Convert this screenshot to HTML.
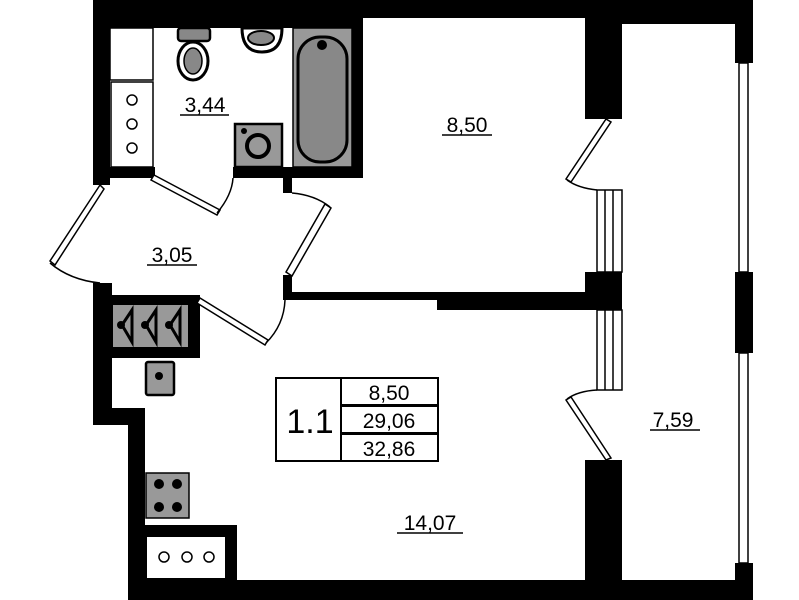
<!DOCTYPE html>
<html><head><style>
html,body{margin:0;padding:0;background:#fff;}
svg{display:block;}
text{font-family:"Liberation Sans",sans-serif;fill:#000;}
</style></head><body>
<svg width="799" height="600" viewBox="0 0 799 600" xmlns="http://www.w3.org/2000/svg">
<rect width="799" height="600" fill="#fff"/>
<g fill="#000">
<rect x="93" y="0" width="660" height="18"/>
<rect x="93" y="0" width="270" height="28"/>
<rect x="622" y="0" width="131" height="24"/>
<rect x="93" y="0" width="17" height="185"/>
<rect x="93" y="167" width="62" height="11"/>
<rect x="233" y="167" width="130" height="11"/>
<rect x="283" y="167" width="9" height="26"/>
<rect x="352" y="0" width="11" height="178"/>
<rect x="283" y="275" width="9" height="25"/>
<rect x="288" y="292" width="300" height="8"/>
<rect x="437" y="292" width="150" height="18"/>
<rect x="585" y="0" width="37" height="119"/>
<rect x="585" y="272" width="37" height="38"/>
<rect x="585" y="460" width="37" height="140"/>
<rect x="735" y="0" width="18" height="63"/>
<rect x="735" y="272" width="18" height="81"/>
<rect x="735" y="563" width="18" height="37"/>
<rect x="128" y="580" width="625" height="20"/>
<rect x="93" y="283" width="19" height="142"/>
<rect x="93" y="408" width="52" height="17"/>
<rect x="128" y="408" width="17" height="192"/>
<rect x="108" y="295" width="92" height="63"/>
<rect x="143" y="525" width="94" height="60"/>
</g>
<g fill="#fff" stroke="#000" stroke-width="1.5">
<rect x="739" y="63" width="9" height="209"/>
<rect x="739" y="353" width="9" height="210"/>
</g>
<rect x="110" y="28" width="43" height="52" fill="#fff" stroke="#000" stroke-width="1.5"/>
<rect x="111" y="82" width="42" height="85" fill="#fff" stroke="#000" stroke-width="1.5"/>
<g fill="#fff" stroke="#000" stroke-width="1.5">
<circle cx="132" cy="100" r="5"/><circle cx="132" cy="124" r="5"/><circle cx="132" cy="148" r="5"/>
</g>
<rect x="293" y="28" width="59" height="139" fill="#999" stroke="#000" stroke-width="1.5"/>
<rect x="298" y="37" width="49" height="125" rx="22" fill="#888" stroke="#000" stroke-width="3"/>
<circle cx="322" cy="45" r="5" fill="#000"/>
<rect x="178" y="28" width="32" height="13" rx="3" fill="#888" stroke="#000" stroke-width="2.5"/>
<ellipse cx="193" cy="61" rx="15" ry="19" fill="#fff" stroke="#000" stroke-width="3"/>
<ellipse cx="193" cy="61" rx="9" ry="13" fill="#888" stroke="#000" stroke-width="1.5"/>
<path d="M242 28 Q242 52 262 52 Q282 52 282 28 Z" fill="#fff" stroke="#000" stroke-width="3"/>
<ellipse cx="261" cy="38" rx="13" ry="7" fill="#888" stroke="#000" stroke-width="2"/>
<rect x="235" y="124" width="47" height="43" fill="#999" stroke="#000" stroke-width="2.5"/>
<circle cx="258" cy="146" r="11" fill="#999" stroke="#000" stroke-width="4"/>
<circle cx="244" cy="131" r="3" fill="#000"/>
<g fill="#fff" stroke="#000" stroke-width="1.5">
<polygon points="154,175 220,210 217,215 151,180"/>
<polygon points="100,185 104,189 55,265 50,261"/>
<polygon points="325,204 331,208 292,276 286,272"/>
<polygon points="200,298 268,340 265,345 197,303"/>
<polygon points="606,119 611,122 571,182 566,179"/>
<polygon points="566,400 571,397 611,458 606,460"/>
</g>
<g fill="none" stroke="#000" stroke-width="1.5">
<path d="M217 213 Q232 195 233 178"/>
<path d="M50 263 Q70 280 100 283"/>
<path d="M292 193 Q315 195 330 207"/>
<path d="M266 343 Q284 325 285 300"/>
<path d="M567 180 Q578 188 597 190"/>
<path d="M567 399 Q578 391 597 390"/>
</g>
<g fill="#fff" stroke="#000" stroke-width="1.5">
<rect x="597" y="190" width="25" height="82"/>
<rect x="597" y="310" width="25" height="80"/>
</g>
<g stroke="#000" stroke-width="1.5">
<line x1="605" y1="190" x2="605" y2="272"/><line x1="613" y1="190" x2="613" y2="272"/>
<line x1="605" y1="310" x2="605" y2="390"/><line x1="613" y1="310" x2="613" y2="390"/>
</g>
<rect x="113" y="305" width="75" height="42" fill="#999"/>
<g fill="none" stroke="#000" stroke-width="3">
<path d="M122 325 L132 310 L132 342 Z"/>
<path d="M146 325 L156 310 L156 342 Z"/>
<path d="M170 325 L180 310 L180 342 Z"/>
</g>
<g fill="#000"><circle cx="121" cy="325" r="4"/><circle cx="145" cy="325" r="4"/><circle cx="169" cy="325" r="4"/></g>
<rect x="112" y="358" width="23" height="50" fill="#fff"/>
<rect x="146" y="362" width="28" height="33" rx="2" fill="#999" stroke="#000" stroke-width="2.5"/>
<circle cx="159" cy="376" r="4" fill="#000"/>
<rect x="146" y="473" width="43" height="45" fill="#999" stroke="#000" stroke-width="1.5"/>
<g fill="#000"><circle cx="159" cy="484" r="5"/><circle cx="177" cy="484" r="5"/><circle cx="159" cy="507" r="5"/><circle cx="177" cy="507" r="5"/></g>
<rect x="147" y="537" width="78" height="41" fill="#fff"/>
<g fill="#fff" stroke="#000" stroke-width="1.5">
<circle cx="164" cy="557" r="5"/><circle cx="187" cy="557" r="5"/><circle cx="209" cy="557" r="5"/>
</g>
<g fill="#fff" stroke="#000" stroke-width="2">
<rect x="276" y="378" width="162" height="83"/>
<rect x="341" y="378" width="97" height="27"/>
<rect x="341" y="406" width="97" height="27"/>
<rect x="341" y="434" width="97" height="27"/>
</g>
<text x="310" y="433" font-size="34" text-anchor="middle">1.1</text>
<g font-size="21" text-anchor="middle">
<text x="389" y="400">8,50</text>
<text x="389" y="428">29,06</text>
<text x="389" y="456">32,86</text>
<text x="205" y="112">3,44</text>
<text x="467" y="132">8,50</text>
<text x="172" y="262">3,05</text>
<text x="430" y="530">14,07</text>
<text x="673" y="427">7,59</text>
</g>
<g stroke="#000" stroke-width="1.5">
<line x1="180" y1="115" x2="229" y2="115"/>
<line x1="442" y1="135" x2="492" y2="135"/>
<line x1="147" y1="265" x2="197" y2="265"/>
<line x1="397" y1="533" x2="463" y2="533"/>
<line x1="650" y1="430" x2="700" y2="430"/>
</g>
</svg>
</body></html>
